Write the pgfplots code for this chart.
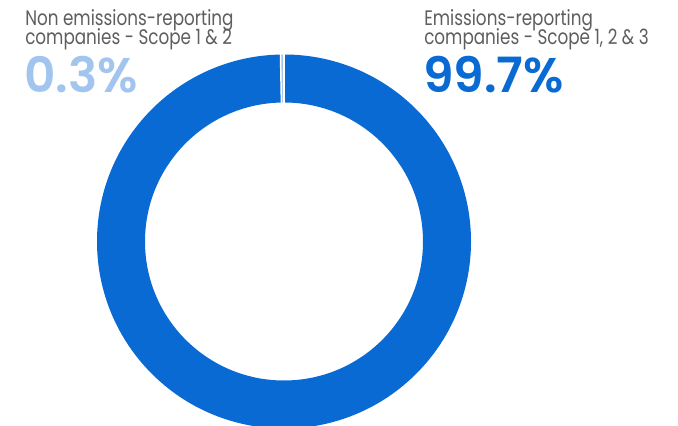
\documentclass[border=0pt]{standalone}
\usepackage{pgfplots}
\pgfplotsset{compat=1.18}
\usepackage{pgfplotstable}
\usetikzlibrary{calc}
\usepackage{fontspec}
\setmainfont{Poppins}
\newfontfamily\labelfont[FakeStretch=0.8]{Poppins}
\newfontfamily\numfont{Poppins SemiBold}
\definecolor{darkblue}{HTML}{0A6AD4}
\definecolor{lightblue}{HTML}{A2C5EF}
\definecolor{labelgray}{HTML}{5E5E5E}
\pgfplotstableread{
label share
nonreporting 0.3
reporting 99.7
}\sharetable
\begin{document}
\begin{tikzpicture}
\pgfplotstablegetelem{0}{share}\of\sharetable \let\smallshare\pgfplotsretval
\pgfplotstablegetelem{1}{share}\of\sharetable \let\bigshare\pgfplotsretval
\pgfmathsetmacro{\aStart}{90}
\pgfmathsetmacro{\aMid}{90-3.6*\bigshare}
\pgfmathsetmacro{\aEnd}{\aMid-3.6*\smallshare}
\begin{axis}[
  at={(0,0)}, anchor=south west,
  scale only axis, width=508.5pt, height=318.75pt,
  xmin=0, xmax=678, ymin=0, ymax=425,
  hide axis, clip=true,
]
\coordinate (c) at (axis cs:284,183.5);
% big slice
\fill[darkblue] ($(c)+(\aStart:140.25pt)$) arc[start angle=\aStart, end angle=\aMid, radius=140.25pt]
  -- ($(c)+(\aMid:104.25pt)$) arc[start angle=\aMid, end angle=\aStart, radius=104.25pt] -- cycle;
% small slice
\fill[lightblue] ($(c)+(\aMid:140.25pt)$) arc[start angle=\aMid, end angle=\aEnd, radius=140.25pt]
  -- ($(c)+(\aEnd:104.25pt)$) arc[start angle=\aEnd, end angle=\aMid, radius=104.25pt] -- cycle;
\draw[white, line width=1.1pt] ($(c)+(\aStart:103pt)$) -- ($(c)+(\aStart:142pt)$);
\draw[white, line width=1.1pt] ($(c)+(\aMid:103pt)$) -- ($(c)+(\aMid:142pt)$);
% labels
\node[anchor=base west, inner sep=0pt, text=labelgray, font=\labelfont\fontsize{15.75pt}{18pt}\selectfont] at (axis cs:25,399.3) {Non emissions-reporting};
\node[anchor=base west, inner sep=0pt, text=labelgray, font=\labelfont\fontsize{15.75pt}{18pt}\selectfont] at (axis cs:25,380) {companies - Scope 1 \& 2};
\node[anchor=base west, inner sep=0pt, text=lightblue, font=\numfont\fontsize{36.5pt}{40pt}\selectfont] at (axis cs:24,332) {0.3\%};
\node[anchor=base west, inner sep=0pt, text=labelgray, font=\labelfont\fontsize{15.75pt}{18pt}\selectfont] at (axis cs:424,399.3) {Emissions-reporting};
\node[anchor=base west, inner sep=0pt, text=labelgray, font=\labelfont\fontsize{15.75pt}{18pt}\selectfont] at (axis cs:424,380) {companies - Scope 1, 2 \& 3};
\node[anchor=base west, inner sep=0pt, text=darkblue, font=\numfont\fontsize{36.5pt}{40pt}\selectfont] at (axis cs:423,332) {99.7\%};
\end{axis}
\pgfresetboundingbox
\useasboundingbox (0,0) rectangle (508.5pt,318.75pt);
\end{tikzpicture}
\end{document}
